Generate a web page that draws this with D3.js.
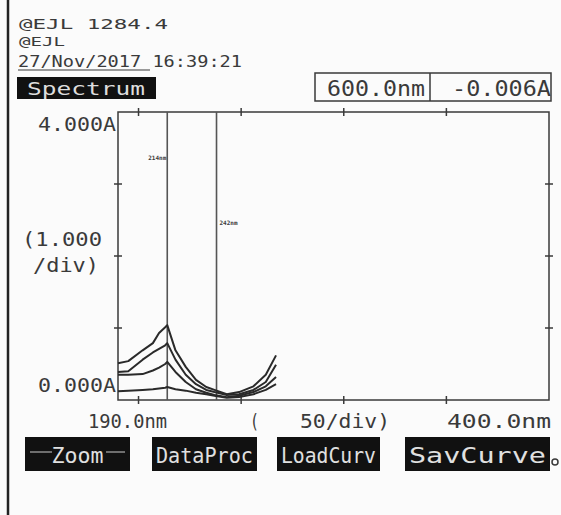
<!DOCTYPE html>
<html>
<head>
<meta charset="utf-8">
<script src="https://cdn.jsdelivr.net/npm/d3@7"></script>
<style>
  body { margin: 0; background: #fbfbfb; }
  svg { display: block; }
  text { font-family: "DejaVu Sans Mono", "Liberation Mono", monospace; fill: #3a3a3a; }
</style>
</head>
<body>
<script>
// wavelengths (nm) of the scan points, shared by all curves
const wavelengths = [190, 195, 202, 207, 210, 213, 214, 218, 223, 228, 233, 237, 243, 249, 256, 262, 267];
// absorbance of each sample
const sample1 = [0.51, 0.54, 0.69, 0.79, 0.93, 1.01, 1.04, 0.69, 0.46, 0.28, 0.18, 0.14, 0.08, 0.11, 0.19, 0.35, 0.62];
const sample2 = [0.39, 0.40, 0.56, 0.66, 0.71, 0.76, 0.79, 0.56, 0.35, 0.22, 0.14, 0.11, 0.07, 0.08, 0.14, 0.25, 0.49];
const sample3 = [0.35, 0.35, 0.36, 0.41, 0.45, 0.50, 0.53, 0.39, 0.25, 0.15, 0.10, 0.07, 0.04, 0.06, 0.11, 0.19, 0.32];
const sample4 = [0.12, 0.13, 0.14, 0.15, 0.16, 0.17, 0.18, 0.15, 0.13, 0.10, 0.08, 0.06, 0.03, 0.04, 0.08, 0.14, 0.22];
const samples = [sample1, sample2, sample3, sample4];

const markerNm = [214, 238];
const markerLabels = ['214nm', '242nm'];
const xTicks = [200, 250, 300, 350];
const yTicks = [1, 2, 3];
const buttons = ['Zoom', 'DataProc', 'LoadCurv', 'SavCurve'];

const width = 561, height = 515;
const svg = d3.select('body').append('svg').attr('width', width).attr('height', height);

const x = d3.scaleLinear().domain([190, 400]).range([118, 549]);
const y = d3.scaleLinear().domain([0, 4]).range([400, 112]);

const ink = '#3a3a3a';

// edge of the scanned page
svg.append('line').attr('x1', 8).attr('x2', 8).attr('y1', 0).attr('y2', height)
    .attr('stroke', '#222').attr('stroke-width', 2.5);

// header
function label(txt, px, py, size, len, anchor) {
    const t = svg.append('text').attr('x', px).attr('y', py)
        .attr('font-size', size).text(txt);
    if (len) t.attr('textLength', len).attr('lengthAdjust', 'spacingAndGlyphs');
    if (anchor) t.attr('text-anchor', anchor);
    return t;
}
label('@EJL 1284.4', 19, 29, 14, 149);
label('@EJL', 19, 46, 13, 46);
label('27/Nov/2017 16:39:21', 18, 67, 15, 224);
svg.append('line').attr('x1', 18).attr('x2', 150).attr('y1', 70).attr('y2', 70)
    .attr('stroke', ink).attr('stroke-width', 1.2);

svg.append('rect').attr('x', 17).attr('y', 77).attr('width', 139).attr('height', 22).attr('fill', '#111');
label('Spectrum', 27, 95, 17, 118).style('fill', '#ddd');

// readout box
svg.append('rect').attr('x', 315).attr('y', 73).attr('width', 236).attr('height', 28)
    .attr('fill', 'none').attr('stroke', ink).attr('stroke-width', 1.5);
svg.append('line').attr('x1', 430).attr('x2', 430).attr('y1', 73).attr('y2', 101)
    .attr('stroke', ink).attr('stroke-width', 1.5);
label('600.0nm', 327, 96, 21, 98);
label('-0.006A', 452, 96, 21, 99);

// plot frame
const frame = svg.append('g').attr('stroke', ink).attr('fill', 'none');
frame.append('rect').attr('x', x(190)).attr('y', y(4))
    .attr('width', x(400) - x(190)).attr('height', y(0) - y(4)).attr('stroke-width', 1.5);

// ticks on all four sides
frame.selectAll('.tt').data(xTicks).enter().append('line')
    .attr('x1', d => x(d)).attr('x2', d => x(d))
    .attr('y1', y(4) - 4).attr('y2', y(4) + 4).attr('stroke-width', 1.5);
frame.selectAll('.bt').data(xTicks).enter().append('line')
    .attr('x1', d => x(d)).attr('x2', d => x(d))
    .attr('y1', y(0) - 4).attr('y2', y(0) + 4).attr('stroke-width', 1.5);
frame.selectAll('.lt').data(yTicks).enter().append('line')
    .attr('x1', x(190) - 4).attr('x2', x(190) + 4)
    .attr('y1', d => y(d)).attr('y2', d => y(d)).attr('stroke-width', 1.5);
frame.selectAll('.rt').data(yTicks).enter().append('line')
    .attr('x1', x(400) - 4).attr('x2', x(400) + 4)
    .attr('y1', d => y(d)).attr('y2', d => y(d)).attr('stroke-width', 1.5);

// marker lines with their labels
frame.selectAll('.mk').data(markerNm).enter().append('line')
    .attr('x1', d => x(d)).attr('x2', d => x(d))
    .attr('y1', y(4)).attr('y2', y(0))
    .attr('stroke', '#555').attr('stroke-width', 1.6);
svg.append('text').attr('x', x(markerNm[0]) - 1).attr('y', 160)
    .attr('text-anchor', 'end').attr('font-size', 6).attr('font-weight', 'bold')
    .text(markerLabels[0]);
svg.append('text').attr('x', x(markerNm[1]) + 3).attr('y', 225)
    .attr('font-size', 6).attr('font-weight', 'bold')
    .text(markerLabels[1]);

// spectra
const line = d3.line()
    .x((d, i) => x(wavelengths[i]))
    .y(d => y(d));
svg.append('g').selectAll('path').data(samples).enter().append('path')
    .attr('d', line)
    .attr('fill', 'none').attr('stroke', '#2a2a2a').attr('stroke-width', 2)
    .attr('stroke-linejoin', 'round');

// axis labels
label('4.000A', 116, 131, 19, 78, 'end');
label('(1.000', 22, 246, 19, 80);
label('/div)', 33, 272, 19, 66);
label('0.000A', 116, 392, 19, 78, 'end');

label('190.0nm', 88, 428, 19, 79);
label('(', 250, 428, 19, 9);
label('50/div)', 300, 428, 19, 90);
label('400.0nm', 447, 428, 19, 104);

// soft-key bar
const keyX = [25, 152, 277, 405];
const keyW = [105, 105, 103, 145];
const keys = svg.append('g');
keys.selectAll('rect').data(buttons).enter().append('rect')
    .attr('x', (d, i) => keyX[i]).attr('y', 437)
    .attr('width', (d, i) => keyW[i]).attr('height', 34)
    .attr('fill', '#111');
keys.append('line').attr('x1', 30).attr('x2', 125).attr('y1', 452).attr('y2', 452)
    .attr('stroke', '#ccc').attr('stroke-width', 1);
keys.append('rect').attr('x', 52).attr('y', 441).attr('width', 54).attr('height', 26).attr('fill', '#111');
keys.selectAll('text').data(buttons).enter().append('text')
    .attr('x', (d, i) => keyX[i] + keyW[i] / 2).attr('y', 463)
    .attr('text-anchor', 'middle').attr('font-size', 22)
    .attr('textLength', (d, i) => (i === 0 ? 52 : keyW[i] - 8))
    .attr('lengthAdjust', 'spacingAndGlyphs')
    .style('fill', '#e0e0e0')
    .text(d => d);
svg.append('circle').attr('cx', 555).attr('cy', 462).attr('r', 3)
    .attr('fill', 'none').attr('stroke', ink).attr('stroke-width', 1.5);
</script>
</body>
</html>
